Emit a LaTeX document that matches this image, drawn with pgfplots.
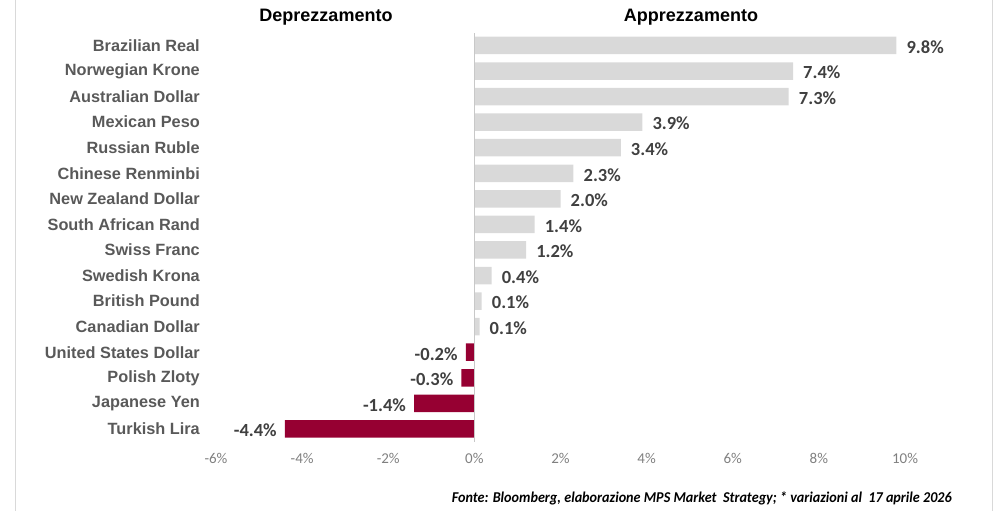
\documentclass[border=0pt]{standalone}
\usepackage{graphicx}
\usepackage{pgfplots}
\pgfplotsset{compat=1.18}
\usepackage{fontspec}
\setmainfont{Liberation Sans}
\newfontfamily\calib{Carlito}
\definecolor{barGray}{HTML}{D9D9D9}
\definecolor{barRed}{HTML}{960032}
\definecolor{labGray}{HTML}{595959}
\definecolor{valGray}{HTML}{404040}
\definecolor{tickGray}{HTML}{808080}
\definecolor{frameGray}{HTML}{D9D9D9}
\definecolor{zeroGray}{HTML}{C8C8C8}
\begin{document}
\begin{tikzpicture}
\path[use as bounding box] (0pt,0pt) rectangle (994pt,-511pt);
\draw[frameGray, line width=1pt] (15pt,0pt) -- (15pt,-511pt);
\draw[frameGray, line width=1pt] (992pt,0pt) -- (992pt,-511pt);
\begin{axis}[
  at={(216pt,-441.7pt)}, anchor=south west,
  scale only axis, width=689pt, height=409pt,
  xmin=-6, xmax=10, ymin=-0.5, ymax=15.5,
  axis line style={draw=none},
  major tick length=0pt,
  tick style={draw=none},
  xtick={-6,-4,-2,0,2,4,6,8,10},
  xticklabels={-6\%,-4\%,-2\%,0\%,2\%,4\%,6\%,8\%,10\%},
  xticklabel style={inner sep=0pt, anchor=center, yshift=-17pt, font=\calib\fontsize{15}{15}\selectfont, text=tickGray},
  ytick={0,...,15},
  yticklabels={Turkish Lira, Japanese Yen, Polish Zloty, United States Dollar, Canadian Dollar, British Pound, Swedish Krona, Swiss Franc, South African Rand, New Zealand Dollar, Chinese Renminbi, Russian Ruble, Mexican Peso, Australian Dollar, Norwegian Krone, Brazilian Real},
  yticklabel style={inner sep=0pt, anchor=east, xshift=-16pt, font=\bfseries\fontsize{16.3}{16.3}\selectfont, text=labGray},
  clip=false,
]
\addplot[xbar, bar width=17.5pt, bar shift=0pt, fill=barGray, draw=none,
  point meta=explicit symbolic,
  nodes near coords,
  nodes near coords style={anchor=west, inner sep=0pt, xshift=10pt, yshift=-1.5pt, font=\calib\bfseries\fontsize{18.5}{18.5}\selectfont, text=valGray}]
coordinates {
(9.8,15) [9.8\%]
(7.4,14) [7.4\%]
(7.3,13) [7.3\%]
(3.9,12) [3.9\%]
(3.4,11) [3.4\%]
(2.3,10) [2.3\%]
(2.0,9) [2.0\%]
(1.4,8) [1.4\%]
(1.2,7) [1.2\%]
(0.4,6) [0.4\%]
(0.17,5) [0.1\%]
(0.12,4) [0.1\%]
};
\addplot[xbar, bar width=17.5pt, bar shift=0pt, fill=barRed, draw=none,
  point meta=explicit symbolic,
  nodes near coords,
  nodes near coords style={anchor=east, inner sep=0pt, xshift=-8pt, yshift=-1.5pt, font=\calib\bfseries\fontsize{18.5}{18.5}\selectfont, text=valGray}]
coordinates {
(-0.2,3) [-0.2\%]
(-0.3,2) [-0.3\%]
(-1.4,1) [-1.4\%]
(-4.4,0) [-4.4\%]
};
\draw[zeroGray, line width=1.3pt] (axis cs:0,-0.5) -- (axis cs:0,15.5);
\end{axis}
\node[font=\bfseries\fontsize{18}{18}\selectfont, text=black] at (326pt,-17pt) {Deprezzamento};
\node[font=\bfseries\fontsize{18}{18}\selectfont, text=black] at (691pt,-17pt) {Apprezzamento};
\node[anchor=east, inner sep=0pt] at (952pt,-498pt) {\resizebox{500pt}{\height}{\calib\bfseries\itshape\fontsize{15}{15}\selectfont Fonte: Bloomberg, elaborazione MPS Market~ Strategy; * variazioni al~ 17 aprile 2026}};
\end{tikzpicture}
\end{document}
